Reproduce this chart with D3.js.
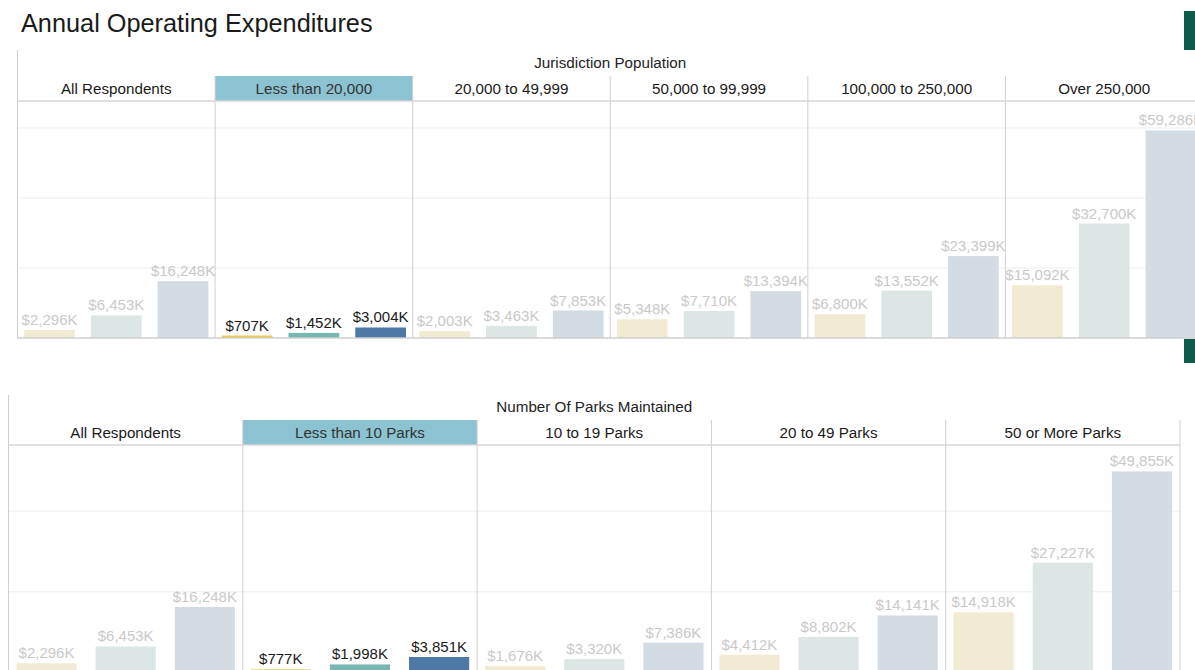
<!DOCTYPE html>
<html>
<head>
<meta charset="utf-8">
<script src="https://cdn.jsdelivr.net/npm/d3@7"></script>
<style>
  html, body { margin: 0; padding: 0; background: #fff; }
  svg { display: block; font-family: "Liberation Sans", Arial, sans-serif; }
</style>
</head>
<body>
<svg id="chart" width="1195" height="670"></svg>
<script>
// ---- Jurisdiction population panel ----
const popGroups = ["All Respondents", "Less than 20,000", "20,000 to 49,999",
                   "50,000 to 99,999", "100,000 to 250,000", "Over 250,000"];
const popLow  = [2296,  707, 2003,  5348,  6800, 15092];
const popMid  = [6453, 1452, 3463,  7710, 13552, 32700];
const popHigh = [16248, 3004, 7853, 13394, 23399, 59286];

// ---- Parks maintained panel ----
const parkGroups = ["All Respondents", "Less than 10 Parks", "10 to 19 Parks",
                    "20 to 49 Parks", "50 or More Parks"];
const parkLow  = [2296,  777, 1676,  4412, 14918];
const parkMid  = [6453, 1998, 3320,  8802, 27227];
const parkHigh = [16248, 3851, 7386, 14141, 49855];

const gridTicks = [20000, 40000, 60000];
const seriesKeys = ["low", "mid", "high"];

const activeColors = { low: "#EDC948", mid: "#76B7B2", high: "#4E79A7" };
const mutedColors  = { low: "#F2EBD4", mid: "#DCE6E4", high: "#D4DCE3" };

const svg = d3.select("#chart");
const fmt = v => "$" + d3.format(",")(v) + "K";

svg.append("text")
  .attr("x", 21).attr("y", 32)
  .attr("font-size", 25.3).attr("fill", "#1a1a1a")
  .text("Annual Operating Expenditures");

// small dark tabs on the right edge
svg.append("rect").attr("x", 1184).attr("y", 11).attr("width", 12).attr("height", 39).attr("fill", "#0B5C4A");
svg.append("rect").attr("x", 1184).attr("y", 339).attr("width", 12).attr("height", 24).attr("fill", "#0B5C4A");

function drawPanel(cfg) {
  const g = svg.append("g");
  const groups = cfg.groups;
  const rows = groups.map((name, i) => ({
    name, i,
    values: { low: cfg.low[i], mid: cfg.mid[i], high: cfg.high[i] }
  }));

  const x = d3.scaleBand().domain(groups).range([cfg.left, cfg.right]).padding(0);
  const y = d3.scaleLinear().domain([0, cfg.yMax]).range([cfg.base, cfg.plotTop]);
  const inner = d3.scaleBand().domain(seriesKeys)
    .range([0, x.bandwidth()]).paddingInner(0.24).paddingOuter(0.1);

  // section title
  g.append("text")
    .attr("x", (cfg.left + cfg.right) / 2).attr("y", cfg.titleY)
    .attr("text-anchor", "middle").attr("font-size", 15.2).attr("fill", "#222")
    .text(cfg.title);

  // highlighted header cell
  g.append("rect")
    .attr("x", x(groups[cfg.active])).attr("y", cfg.headTop)
    .attr("width", x.bandwidth()).attr("height", cfg.plotTop - cfg.headTop)
    .attr("fill", "#8CC3D2");

  // header labels
  g.selectAll("text.head").data(groups).join("text")
    .attr("class", "head")
    .attr("x", d => x(d) + x.bandwidth() / 2)
    .attr("y", cfg.headTop + 18)
    .attr("text-anchor", "middle").attr("font-size", 15.2)
    .attr("fill", (d, i) => i === cfg.active ? "#333" : "#1a1a1a")
    .text(d => d);

  // gridlines
  g.selectAll("line.grid").data(gridTicks.filter(t => t <= cfg.yMax)).join("line")
    .attr("class", "grid")
    .attr("x1", cfg.left).attr("x2", cfg.right)
    .attr("y1", d => y(d)).attr("y2", d => y(d))
    .attr("stroke", "#eeeeee").attr("stroke-width", 1);

  // bars
  const col = g.selectAll("g.col").data(rows).join("g")
    .attr("class", "col")
    .attr("transform", d => `translate(${x(d.name)},0)`);

  col.selectAll("rect").data(d => seriesKeys.map(k => ({ k, v: d.values[k], on: d.i === cfg.active })))
    .join("rect")
    .attr("x", d => inner(d.k))
    .attr("width", inner.bandwidth())
    .attr("y", d => y(d.v))
    .attr("height", d => y(0) - y(d.v))
    .attr("fill", d => d.on ? activeColors[d.k] : mutedColors[d.k]);

  col.selectAll("text").data(d => seriesKeys.map(k => ({ k, v: d.values[k], on: d.i === cfg.active })))
    .join("text")
    .attr("x", d => inner(d.k) + inner.bandwidth() / 2)
    .attr("y", d => y(d.v) - 5)
    .attr("text-anchor", "middle").attr("font-size", 15)
    .attr("fill", d => d.on ? "#1a1a1a" : "#c9c9c9")
    .text(d => fmt(d.v));

  // column dividers
  const edges = groups.map(d => x(d)).slice(1);
  if (cfg.rightBorder) edges.push(cfg.right);
  g.selectAll("line.div").data(edges).join("line")
    .attr("class", "div")
    .attr("x1", d => d).attr("x2", d => d)
    .attr("y1", cfg.headTop).attr("y2", cfg.base)
    .attr("stroke", "#cfcfcf").attr("stroke-width", 1);

  // left border
  g.append("line")
    .attr("x1", cfg.left).attr("x2", cfg.left)
    .attr("y1", cfg.frameTop).attr("y2", cfg.base)
    .attr("stroke", "#cfcfcf").attr("stroke-width", 1);

  // header rule and baseline
  g.append("line")
    .attr("x1", cfg.left).attr("x2", cfg.right)
    .attr("y1", cfg.plotTop).attr("y2", cfg.plotTop)
    .attr("stroke", "#d6d6d6").attr("stroke-width", 1.5);
  g.append("line")
    .attr("x1", cfg.left).attr("x2", cfg.right)
    .attr("y1", cfg.base).attr("y2", cfg.base)
    .attr("stroke", "#cfcfcf").attr("stroke-width", 1.5);
}

drawPanel({
  title: "Jurisdiction Population",
  groups: popGroups, low: popLow, mid: popMid, high: popHigh,
  active: 1,
  left: 17.5, right: 1203, frameTop: 50, titleY: 68,
  headTop: 76, plotTop: 101, base: 338, yMax: 67700,
  rightBorder: false
});

drawPanel({
  title: "Number Of Parks Maintained",
  groups: parkGroups, low: parkLow, mid: parkMid, high: parkHigh,
  active: 1,
  left: 8.5, right: 1180, frameTop: 395, titleY: 412,
  headTop: 420, plotTop: 445, base: 672.5, yMax: 56400,
  rightBorder: true
});
</script>
</body>
</html>
